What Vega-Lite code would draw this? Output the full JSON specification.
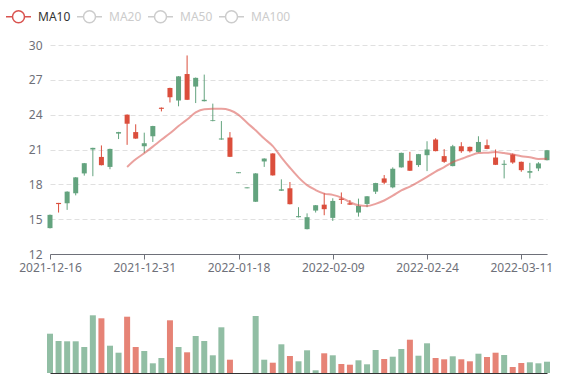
{
  "$schema": "https://vega.github.io/schema/vega-lite/v6.json",
  "padding": {"left": 5, "top": 3, "right": 5, "bottom": 5},
  "background": "#ffffff",
  "config": {
    "view": {"stroke": null},
    "font": "Noto Sans",
    "axis": {"labelFont": "Noto Sans", "labelFontSize": 12, "labelColor": "#6e7079", "labelOverlap": false},
    "legend": {"labelFont": "Noto Sans", "labelFontSize": 12}
  },
  "data": {"values": [
    {"date": "2021-12-16", "open": 14.23, "close": 15.37, "low": 14.2, "high": 15.4, "ma10": null, "vol": 3930000, "dir": "up", "vdir": "up"},
    {"date": "2021-12-17", "open": 16.4, "close": 16.3, "low": 15.57, "high": 16.4, "ma10": null, "vol": 3200000, "dir": "down", "vdir": "up"},
    {"date": "2021-12-20", "open": 16.37, "close": 17.37, "low": 15.8, "high": 17.4, "ma10": null, "vol": 3170000, "dir": "up", "vdir": "up"},
    {"date": "2021-12-21", "open": 17.23, "close": 18.6, "low": 17.05, "high": 18.62, "ma10": null, "vol": 3170000, "dir": "up", "vdir": "up"},
    {"date": "2021-12-22", "open": 18.94, "close": 19.82, "low": 18.75, "high": 19.84, "ma10": null, "vol": 2600000, "dir": "up", "vdir": "up"},
    {"date": "2021-12-23", "open": 21.0, "close": 21.14, "low": 18.7, "high": 21.15, "ma10": null, "vol": 5770000, "dir": "up", "vdir": "up"},
    {"date": "2021-12-24", "open": 20.36, "close": 19.65, "low": 19.63, "high": 21.35, "ma10": null, "vol": 5470000, "dir": "down", "vdir": "down"},
    {"date": "2021-12-27", "open": 19.5, "close": 21.05, "low": 19.3, "high": 21.07, "ma10": null, "vol": 2730000, "dir": "up", "vdir": "up"},
    {"date": "2021-12-28", "open": 22.37, "close": 22.5, "low": 21.9, "high": 22.52, "ma10": null, "vol": 2030000, "dir": "up", "vdir": "up"},
    {"date": "2021-12-29", "open": 24.0, "close": 23.22, "low": 21.4, "high": 24.02, "ma10": 19.5, "vol": 5630000, "dir": "down", "vdir": "down"},
    {"date": "2021-12-30", "open": 22.5, "close": 21.94, "low": 21.92, "high": 23.17, "ma10": 20.16, "vol": 2600000, "dir": "down", "vdir": "down"},
    {"date": "2021-12-31", "open": 21.28, "close": 21.54, "low": 20.7, "high": 22.45, "ma10": 20.68, "vol": 2200000, "dir": "up", "vdir": "up"},
    {"date": "2022-01-04", "open": 22.14, "close": 23.02, "low": 21.65, "high": 23.04, "ma10": 21.25, "vol": 970000, "dir": "up", "vdir": "up"},
    {"date": "2022-01-05", "open": 24.6, "close": 24.5, "low": 24.28, "high": 24.62, "ma10": 21.84, "vol": 1500000, "dir": "down", "vdir": "up"},
    {"date": "2022-01-06", "open": 26.3, "close": 25.5, "low": 25.05, "high": 26.32, "ma10": 22.4, "vol": 5270000, "dir": "down", "vdir": "down"},
    {"date": "2022-01-07", "open": 25.22, "close": 27.3, "low": 24.72, "high": 27.32, "ma10": 23.02, "vol": 2600000, "dir": "up", "vdir": "up"},
    {"date": "2022-01-10", "open": 27.5, "close": 25.28, "low": 25.26, "high": 29.1, "ma10": 23.58, "vol": 2070000, "dir": "down", "vdir": "down"},
    {"date": "2022-01-11", "open": 26.42, "close": 27.17, "low": 25.0, "high": 27.2, "ma10": 24.2, "vol": 3700000, "dir": "up", "vdir": "up"},
    {"date": "2022-01-12", "open": 25.16, "close": 25.28, "low": 25.14, "high": 27.45, "ma10": 24.47, "vol": 3200000, "dir": "up", "vdir": "up"},
    {"date": "2022-01-13", "open": 23.45, "close": 23.52, "low": 23.43, "high": 24.95, "ma10": 24.5, "vol": 1770000, "dir": "up", "vdir": "up"},
    {"date": "2022-01-14", "open": 21.86, "close": 21.95, "low": 21.84, "high": 23.45, "ma10": 24.5, "vol": 4570000, "dir": "up", "vdir": "up"},
    {"date": "2022-01-17", "open": 22.03, "close": 20.37, "low": 20.35, "high": 22.5, "ma10": 24.38, "vol": 1330000, "dir": "down", "vdir": "down"},
    {"date": "2022-01-18", "open": 18.96, "close": 19.04, "low": 18.96, "high": 19.04, "ma10": 23.98, "vol": 0, "dir": "up", "vdir": "up"},
    {"date": "2022-01-19", "open": 17.66, "close": 17.74, "low": 17.66, "high": 17.74, "ma10": 23.3, "vol": 0, "dir": "up", "vdir": "up"},
    {"date": "2022-01-20", "open": 16.5, "close": 18.94, "low": 16.48, "high": 18.96, "ma10": 22.65, "vol": 5700000, "dir": "up", "vdir": "up"},
    {"date": "2022-01-21", "open": 19.97, "close": 20.22, "low": 19.5, "high": 20.24, "ma10": 21.94, "vol": 1330000, "dir": "up", "vdir": "up"},
    {"date": "2022-01-24", "open": 20.66, "close": 18.77, "low": 18.75, "high": 20.68, "ma10": 21.29, "vol": 1030000, "dir": "down", "vdir": "down"},
    {"date": "2022-01-25", "open": 17.45, "close": 17.57, "low": 17.43, "high": 18.43, "ma10": 20.33, "vol": 2870000, "dir": "up", "vdir": "up"},
    {"date": "2022-01-26", "open": 17.66, "close": 16.29, "low": 16.27, "high": 18.2, "ma10": 19.43, "vol": 1700000, "dir": "down", "vdir": "down"},
    {"date": "2022-01-27", "open": 15.17, "close": 15.26, "low": 15.15, "high": 16.03, "ma10": 18.6, "vol": 1170000, "dir": "up", "vdir": "up"},
    {"date": "2022-01-28", "open": 14.14, "close": 15.17, "low": 14.12, "high": 15.5, "ma10": 17.93, "vol": 2270000, "dir": "up", "vdir": "up"},
    {"date": "2022-02-07", "open": 15.74, "close": 16.2, "low": 15.57, "high": 16.22, "ma10": 17.51, "vol": 270000, "dir": "up", "vdir": "up"},
    {"date": "2022-02-08", "open": 16.25, "close": 15.86, "low": 15.34, "high": 17.23, "ma10": 17.2, "vol": 1970000, "dir": "down", "vdir": "down"},
    {"date": "2022-02-09", "open": 15.11, "close": 16.57, "low": 14.85, "high": 16.8, "ma10": 17.09, "vol": 1770000, "dir": "up", "vdir": "up"},
    {"date": "2022-02-10", "open": 16.77, "close": 16.66, "low": 16.31, "high": 17.3, "ma10": 16.86, "vol": 900000, "dir": "down", "vdir": "down"},
    {"date": "2022-02-11", "open": 16.37, "close": 16.25, "low": 16.23, "high": 16.65, "ma10": 16.46, "vol": 830000, "dir": "down", "vdir": "down"},
    {"date": "2022-02-14", "open": 15.57, "close": 16.14, "low": 15.22, "high": 16.77, "ma10": 16.2, "vol": 1270000, "dir": "up", "vdir": "up"},
    {"date": "2022-02-15", "open": 16.31, "close": 16.97, "low": 16.03, "high": 16.99, "ma10": 16.14, "vol": 870000, "dir": "up", "vdir": "up"},
    {"date": "2022-02-16", "open": 17.37, "close": 18.11, "low": 17.17, "high": 18.13, "ma10": 16.32, "vol": 2300000, "dir": "up", "vdir": "up"},
    {"date": "2022-02-17", "open": 18.51, "close": 18.14, "low": 18.0, "high": 18.8, "ma10": 16.61, "vol": 1400000, "dir": "down", "vdir": "down"},
    {"date": "2022-02-18", "open": 17.74, "close": 19.34, "low": 17.66, "high": 19.46, "ma10": 17.02, "vol": 1630000, "dir": "up", "vdir": "up"},
    {"date": "2022-02-21", "open": 19.46, "close": 20.71, "low": 19.44, "high": 20.73, "ma10": 17.48, "vol": 2400000, "dir": "up", "vdir": "up"},
    {"date": "2022-02-22", "open": 20.03, "close": 19.17, "low": 19.15, "high": 20.8, "ma10": 17.81, "vol": 3330000, "dir": "down", "vdir": "down"},
    {"date": "2022-02-23", "open": 19.66, "close": 20.6, "low": 19.5, "high": 20.62, "ma10": 18.21, "vol": 1730000, "dir": "up", "vdir": "up"},
    {"date": "2022-02-24", "open": 20.51, "close": 21.0, "low": 19.14, "high": 21.71, "ma10": 18.64, "vol": 2970000, "dir": "up", "vdir": "up"},
    {"date": "2022-02-25", "open": 21.86, "close": 20.86, "low": 20.84, "high": 21.97, "ma10": 19.1, "vol": 1500000, "dir": "down", "vdir": "down"},
    {"date": "2022-02-28", "open": 20.43, "close": 19.94, "low": 19.85, "high": 21.03, "ma10": 19.48, "vol": 1370000, "dir": "down", "vdir": "down"},
    {"date": "2022-03-01", "open": 19.57, "close": 21.28, "low": 19.55, "high": 21.4, "ma10": 19.92, "vol": 1670000, "dir": "up", "vdir": "up"},
    {"date": "2022-03-02", "open": 21.28, "close": 20.85, "low": 20.71, "high": 21.63, "ma10": 20.19, "vol": 1370000, "dir": "down", "vdir": "down"},
    {"date": "2022-03-03", "open": 21.23, "close": 20.85, "low": 20.74, "high": 21.25, "ma10": 20.46, "vol": 1170000, "dir": "down", "vdir": "down"},
    {"date": "2022-03-04", "open": 20.77, "close": 21.65, "low": 20.75, "high": 22.14, "ma10": 20.69, "vol": 1930000, "dir": "up", "vdir": "up"},
    {"date": "2022-03-07", "open": 21.37, "close": 21.05, "low": 21.03, "high": 21.86, "ma10": 20.73, "vol": 1600000, "dir": "down", "vdir": "down"},
    {"date": "2022-03-08", "open": 20.31, "close": 19.68, "low": 19.66, "high": 21.0, "ma10": 20.78, "vol": 2030000, "dir": "down", "vdir": "down"},
    {"date": "2022-03-09", "open": 19.68, "close": 19.77, "low": 18.51, "high": 20.08, "ma10": 20.69, "vol": 1800000, "dir": "up", "vdir": "up"},
    {"date": "2022-03-10", "open": 20.57, "close": 19.88, "low": 19.77, "high": 20.66, "ma10": 20.58, "vol": 600000, "dir": "down", "vdir": "down"},
    {"date": "2022-03-11", "open": 19.94, "close": 19.22, "low": 19.08, "high": 19.96, "ma10": 20.42, "vol": 1000000, "dir": "down", "vdir": "down"},
    {"date": "2022-03-14", "open": 19.0, "close": 19.14, "low": 18.51, "high": 19.85, "ma10": 20.34, "vol": 1070000, "dir": "up", "vdir": "up"},
    {"date": "2022-03-15", "open": 19.37, "close": 19.8, "low": 19.14, "high": 19.91, "ma10": 20.19, "vol": 970000, "dir": "up", "vdir": "up"},
    {"date": "2022-03-16", "open": 20.08, "close": 20.94, "low": 20.06, "high": 20.96, "ma10": 20.2, "vol": 1130000, "dir": "up", "vdir": "up"}
  ]},
  "spacing": 28,
  "resolve": {"scale": {"x": "independent", "color": "independent"}},
  "vconcat": [
    {
      "width": 497,
      "height": 209,
      "encoding": {
        "x": {
          "field": "date", "type": "ordinal",
          "scale": {"type": "point", "padding": 0},
          "axis": {
            "values": ["2021-12-16", "2021-12-31", "2022-01-18", "2022-02-09", "2022-02-24", "2022-03-11"],
            "labelAngle": 0, "title": null, "grid": false, "labelOverlap": false,
            "domainColor": "#6e7079", "tickColor": "#6e7079", "tickSize": 5, "labelPadding": 3
          }
        }
      },
      "layer": [
        {
          "mark": {"type": "rule", "strokeWidth": 1},
          "encoding": {
            "y": {
              "field": "low", "type": "quantitative",
              "scale": {"domain": [12, 30], "nice": false, "zero": false},
              "axis": {
                "values": [12, 15, 18, 21, 24, 27, 30], "title": null, "labelOverlap": false,
                "domain": false, "ticks": false, "labelPadding": 8,
                "grid": true, "gridColor": "#e0e0e0", "gridDash": [5, 3]
              }
            },
            "y2": {"field": "high"},
            "color": {"field": "dir", "type": "nominal", "scale": {"domain": ["up", "down"], "range": ["#63a37e", "#db4e3c"]}, "legend": null}
          }
        },
        {
          "mark": {"type": "bar", "width": 5},
          "encoding": {
            "y": {
              "field": "open", "type": "quantitative",
              "axis": {
                "values": [12, 15, 18, 21, 24, 27, 30], "title": null, "labelOverlap": false,
                "domain": false, "ticks": false, "labelPadding": 8,
                "grid": true, "gridColor": "#e0e0e0", "gridDash": [5, 3]
              }
            },
            "y2": {"field": "close"},
            "color": {"field": "dir", "type": "nominal", "scale": {"domain": ["up", "down"], "range": ["#63a37e", "#db4e3c"]}, "legend": null}
          }
        },
        {
          "mark": {"type": "line", "interpolate": "monotone", "strokeWidth": 2, "opacity": 0.55},
          "encoding": {
            "y": {
              "field": "ma10", "type": "quantitative",
              "axis": {
                "values": [12, 15, 18, 21, 24, 27, 30], "title": null, "labelOverlap": false,
                "domain": false, "ticks": false, "labelPadding": 8,
                "grid": true, "gridColor": "#e0e0e0", "gridDash": [5, 3]
              }
            },
            "stroke": {
              "datum": "MA10", "type": "nominal",
              "scale": {"domain": ["MA10", "MA20", "MA50", "MA100"], "range": ["#d9534f", "#cccccc", "#cccccc", "#cccccc"]},
              "legend": {
                "title": null, "orient": "none", "legendX": -45, "legendY": -42,
                "direction": "horizontal", "columns": 4,
                "symbolType": "M-1,0L-0.48,0M0.48,0L1,0M0.48,0A0.48,0.48,0,1,1,-0.48,0A0.48,0.48,0,1,1,0.48,0",
                "symbolSize": 625, "symbolStrokeWidth": 1.5, "symbolOpacity": 1, "symbolFillColor": "#ffffff",
                "labelColor": {"expr": "datum.label === 'MA10' ? '#333333' : '#cccccc'"},
                "labelFontSize": 12, "labelOffset": 6, "columnPadding": 3
              }
            }
          }
        }
      ]
    },
    {
      "width": 497,
      "height": 72,
      "mark": {"type": "bar", "width": 6, "fillOpacity": 0.7},
      "encoding": {
        "x": {
          "field": "date", "type": "ordinal",
          "scale": {"type": "point", "padding": 0},
          "axis": {"labels": false, "ticks": false, "title": null, "grid": false, "domainColor": "#333333"}
        },
        "y": {"field": "vol", "type": "quantitative", "scale": {"domain": [0, 7200000], "nice": false}, "axis": null},
        "color": {"field": "vdir", "type": "nominal", "scale": {"domain": ["up", "down"], "range": ["#63a37e", "#db4e3c"]}, "legend": null}
      }
    }
  ]
}
